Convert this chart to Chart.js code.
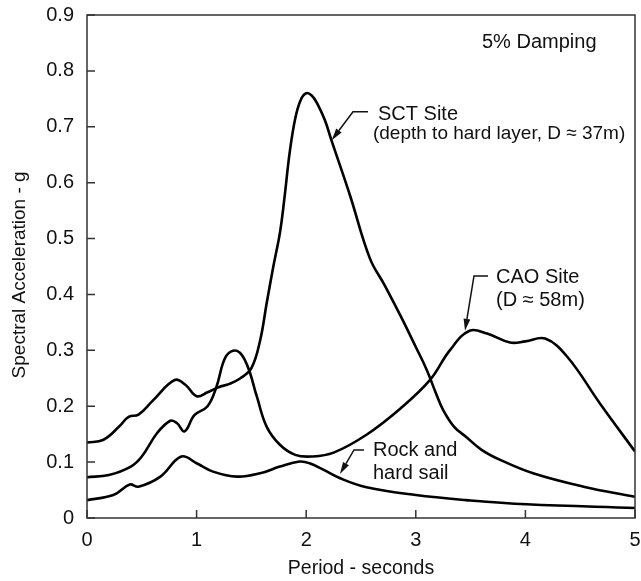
<!DOCTYPE html>
<html>
<head>
<meta charset="utf-8">
<script src="https://cdn.jsdelivr.net/npm/chart.js@4/dist/chart.umd.min.js"></script>
<style>
  html, body { margin: 0; padding: 0; background: #ffffff; }
  #wrap { width: 641px; height: 581px; }
</style>
</head>
<body>
<div id="wrap"><canvas id="c" width="641" height="581"></canvas></div>
<script>
// ---- Data ----
const periodSCT = [0, 0.15, 0.3, 0.38, 0.47, 0.6, 0.8, 0.9, 1.0, 1.1, 1.2, 1.3, 1.4, 1.5, 1.58, 1.64, 1.7, 1.76, 1.8, 1.85, 1.9, 1.95, 2.0, 2.05, 2.1, 2.17, 2.23, 2.4, 2.58, 2.72, 2.86, 3.0, 3.1, 3.18, 3.25, 3.35, 3.46, 3.6, 3.77, 4.07, 4.53, 5.0];
const accelSCT  = [0.135, 0.14, 0.165, 0.181, 0.185, 0.21, 0.247, 0.238, 0.218, 0.225, 0.234, 0.24, 0.25, 0.268, 0.318, 0.385, 0.45, 0.51, 0.57, 0.655, 0.715, 0.748, 0.760, 0.756, 0.742, 0.712, 0.676, 0.577, 0.465, 0.415, 0.362, 0.306, 0.265, 0.225, 0.193, 0.163, 0.145, 0.122, 0.104, 0.080, 0.056, 0.038];

const periodCAO = [0, 0.2, 0.4, 0.5, 0.64, 0.76, 0.82, 0.89, 0.98, 1.1, 1.18, 1.27, 1.37, 1.46, 1.55, 1.64, 1.76, 1.9, 2.05, 2.25, 2.55, 2.86, 3.13, 3.31, 3.49, 3.65, 3.86, 4.0, 4.18, 4.38, 4.68, 5.0];
const accelCAO  = [0.073, 0.077, 0.092, 0.11, 0.152, 0.174, 0.17, 0.155, 0.184, 0.2, 0.234, 0.29, 0.299, 0.274, 0.217, 0.163, 0.131, 0.113, 0.11, 0.117, 0.149, 0.196, 0.247, 0.30, 0.335, 0.330, 0.314, 0.316, 0.321, 0.289, 0.205, 0.119];

const periodRock = [0, 0.24, 0.39, 0.47, 0.67, 0.86, 1.0, 1.15, 1.37, 1.58, 1.76, 1.94, 2.03, 2.16, 2.31, 2.55, 3.0, 3.46, 4.01, 5.0];
const accelRock  = [0.032, 0.041, 0.060, 0.056, 0.074, 0.110, 0.098, 0.083, 0.074, 0.080, 0.092, 0.101, 0.098, 0.086, 0.071, 0.055, 0.041, 0.032, 0.0245, 0.018];

const xTicks = [0, 1, 2, 3, 4, 5];
const yTicks = [0, 0.1, 0.2, 0.3, 0.4, 0.5, 0.6, 0.7, 0.8, 0.9];
const xTitle = 'Period - seconds';
const yTitle = 'Spectral Acceleration - g';

// annotation texts and anchors (data units)
const noteDamping = { text: ['5% Damping'], tx: 3.604, ty: 0.841 };
const noteSCT  = { text: ['SCT Site', '(depth to hard layer, D \u2248 37m)'], size: [20, 19], tip: [2.233, 0.676], elbow: [2.427, 0.727], end: [2.564, 0.727], tx: [2.655, 2.609], ty: [0.712, 0.679] };
const noteCAO  = { text: ['CAO Site', '(D \u2248 58m)'], size: [20, 20], tip: [3.449, 0.335], elbow: [3.531, 0.433], end: [3.659, 0.433], tx: [3.732, 3.732], ty: [0.421, 0.379] };
const noteRock = { text: ['Rock and', 'hard sail'], size: [20, 20], tip: [2.308, 0.0787], elbow: [2.436, 0.1217], end: [2.527, 0.1217], tx: [2.609, 2.609], ty: [0.1115, 0.0698] };

const FONT = '"Liberation Sans", Arial, Helvetica, sans-serif';

function toPoints(xs, ys) { return xs.map((x, i) => ({ x: x, y: ys[i] })); }

const framePlugin = {
  id: 'frame',
  afterDraw(chart) {
    const ctx = chart.ctx;
    const a = chart.chartArea;
    const xs = chart.scales.x, ys = chart.scales.y;
    ctx.save();
    ctx.strokeStyle = '#333333';
    ctx.lineWidth = 1.5;
    ctx.strokeRect(a.left, a.top, a.right - a.left, a.bottom - a.top);
    ctx.beginPath();
    xTicks.forEach(v => {
      const px = xs.getPixelForValue(v);
      ctx.moveTo(px, a.bottom); ctx.lineTo(px, a.bottom - 8);
    });
    yTicks.forEach(v => {
      const py = ys.getPixelForValue(v);
      ctx.moveTo(a.left, py); ctx.lineTo(a.left + 8, py);
    });
    ctx.stroke();

    // y axis title
    ctx.fillStyle = '#111111';
    ctx.font = '19px ' + FONT;
    ctx.save();
    ctx.translate(20, ys.getPixelForValue(0.435));
    ctx.rotate(-Math.PI / 2);
    ctx.textAlign = 'center';
    ctx.textBaseline = 'middle';
    ctx.fillText(yTitle, 0, 0);
    ctx.restore();

    // annotations
    ctx.fillStyle = '#111111';
    ctx.strokeStyle = '#111111';
    ctx.font = '20px ' + FONT;
    ctx.textAlign = 'left';
    ctx.textBaseline = 'alphabetic';
    ctx.fillText(noteDamping.text[0], xs.getPixelForValue(noteDamping.tx), ys.getPixelForValue(noteDamping.ty));

    [noteSCT, noteCAO, noteRock].forEach(n => {
      const tip = [xs.getPixelForValue(n.tip[0]), ys.getPixelForValue(n.tip[1])];
      const el = [xs.getPixelForValue(n.elbow[0]), ys.getPixelForValue(n.elbow[1])];
      const en = [xs.getPixelForValue(n.end[0]), ys.getPixelForValue(n.end[1])];
      const ang = Math.atan2(tip[1] - el[1], tip[0] - el[0]);
      const L = 12, W = 3.4;
      const bx = tip[0] - L * Math.cos(ang), by = tip[1] - L * Math.sin(ang);
      ctx.lineWidth = 1.5;
      ctx.beginPath();
      ctx.moveTo(en[0], en[1]); ctx.lineTo(el[0], el[1]); ctx.lineTo(bx, by);
      ctx.stroke();
      ctx.beginPath();
      ctx.moveTo(tip[0], tip[1]);
      ctx.lineTo(bx + W * Math.sin(ang), by - W * Math.cos(ang));
      ctx.lineTo(bx - W * Math.sin(ang), by + W * Math.cos(ang));
      ctx.closePath();
      ctx.fill();
      n.text.forEach((t, i) => {
        ctx.font = n.size[i] + 'px ' + FONT;
        ctx.fillText(t, xs.getPixelForValue(n.tx[i]), ys.getPixelForValue(n.ty[i]));
      });
    });
    ctx.restore();
  }
};

const lineStyle = { borderColor: '#000000', borderWidth: 2.6, pointRadius: 0, fill: false, tension: 0.4, borderJoinStyle: 'round' };

new Chart(document.getElementById('c'), {
  type: 'line',
  data: {
    datasets: [
      Object.assign({ label: 'SCT Site', data: toPoints(periodSCT, accelSCT) }, lineStyle),
      Object.assign({ label: 'CAO Site', data: toPoints(periodCAO, accelCAO) }, lineStyle),
      Object.assign({ label: 'Rock and hard sail', data: toPoints(periodRock, accelRock) }, lineStyle)
    ]
  },
  options: {
    responsive: false,
    animation: false,
    devicePixelRatio: 1,
    layout: { padding: { top: 15, right: 6, left: 0, bottom: 0 } },
    plugins: { legend: { display: false }, tooltip: { enabled: false } },
    scales: {
      x: {
        type: 'linear', min: 0, max: 5,
        afterBuildTicks: s => { s.ticks = xTicks.map(v => ({ value: v })); },
        afterFit: s => { s.height = 63; s.paddingLeft = 0; s.paddingRight = 0; },
        grid: { display: false, drawTicks: false },
        border: { display: false },
        ticks: { color: '#111', font: { family: FONT, size: 20 }, padding: 10, maxRotation: 0 },
        title: { display: true, text: xTitle, color: '#111', font: { family: FONT, size: 19.5 }, padding: { top: 0, bottom: 1 } }
      },
      y: {
        type: 'linear', min: 0, max: 0.9,
        afterBuildTicks: s => { s.ticks = yTicks.map(v => ({ value: v })); },
        afterFit: s => { s.width = 87; s.paddingTop = 0; s.paddingBottom = 0; },
        grid: { display: false, drawTicks: false },
        border: { display: false },
        ticks: { color: '#111', font: { family: FONT, size: 20 }, padding: 13, callback: v => String(Math.round(v * 10) / 10) },
        title: { display: false, text: yTitle }
      }
    }
  },
  plugins: [framePlugin]
});
</script>
</body>
</html>
